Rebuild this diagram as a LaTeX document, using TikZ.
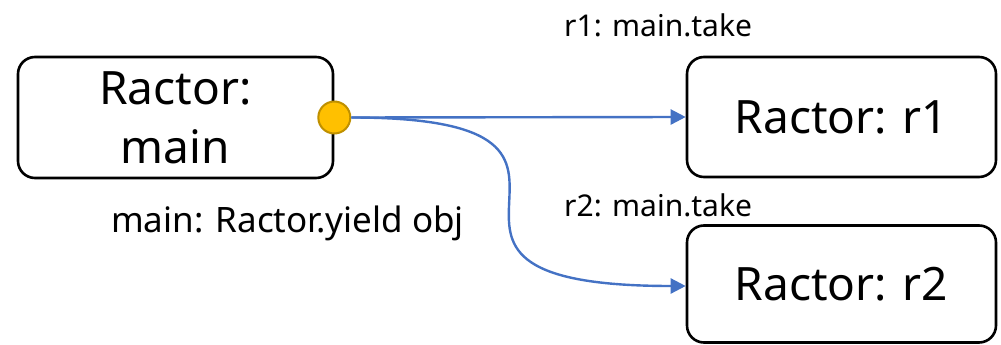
\documentclass[tikz,border=0pt]{standalone}
\usepackage{fontspec}
\setmainfont{Noto Sans}
\usetikzlibrary{arrows.meta}

\definecolor{linkblue}{HTML}{4472C4}
\definecolor{portfill}{HTML}{FFC000}
\definecolor{portline}{HTML}{BF9000}

\tikzset{
  ractor/.style={draw=black, line width=2.6pt, rounded corners=17pt,
    fill=white, align=center, font=\fontsize{46}{59}\selectfont,
    inner sep=0pt},
  port/.style={circle, draw=portline, fill=portfill, line width=2pt,
    minimum size=32pt, inner sep=0pt},
  msg/.style={draw=linkblue, line width=2.4pt,
    -{Triangle[length=15pt,width=15pt]}},
  lbl/.style={anchor=base west, inner sep=0pt},
}

\begin{document}
\begin{tikzpicture}[x=1pt, y=-1pt]
  \useasboundingbox (0,0) rectangle (1001,345);

  % actors
  \node[ractor, minimum width=315pt, minimum height=121pt] (main) at (175.5,117.5) {Ractor:\\main};
  \node[ractor, minimum width=309pt, minimum height=120pt] (r1) at (841.5,117) {Ractor: r1};
  \node[ractor, minimum width=309pt, minimum height=117pt] (r2) at (841.5,284) {Ractor: r2};

  % outgoing port of main
  \node[port] (p) at (main.east) {};

  % messages taken by r1 and r2
  \draw[msg] (p.east) -- (r1.west);
  \draw[msg] (p.east) .. controls +(325,0) and +(-345,0) .. ([yshift=-2pt]r2.west);

  % labels
  \node[lbl, font=\fontsize{30}{34}\selectfont] (t1) at (564,37) {r1: main.take};
  \node[lbl, font=\fontsize{30}{34}\selectfont] (t2) at (564,216) {r2: main.take};
  \node[lbl, font=\fontsize{35}{40}\selectfont] (y) at (111,232) {main: Ractor.yield obj};
\end{tikzpicture}
\end{document}
